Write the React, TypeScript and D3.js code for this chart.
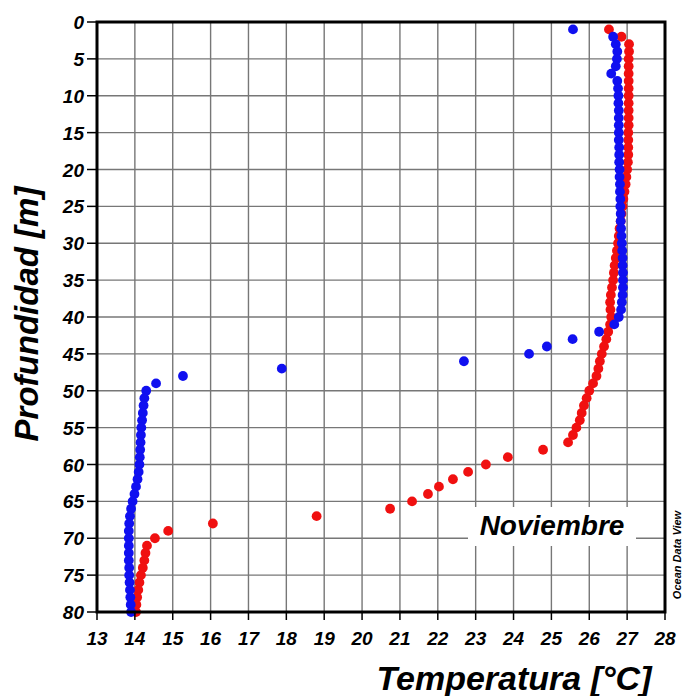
import * as d3 from 'd3';

const depths = [
  1, 2, 3, 4, 5, 6, 7, 8, 9, 10, 11, 12, 13, 14, 15, 16, 17, 18, 19, 20,
  21, 22, 23, 24, 25, 26, 27, 28, 29, 30, 31, 32, 33, 34, 35, 36, 37, 38, 39, 40,
  41, 42, 43, 44, 45, 46, 47, 48, 49, 50, 51, 52, 53, 54, 55, 56, 57, 58, 59, 60,
  61, 62, 63, 64, 65, 66, 67, 68, 69, 70, 71, 72, 73, 74, 75, 76, 77, 78, 79, 80,
];

// azul
const tempBlue = [
  25.57, 26.63, 26.7, 26.74, 26.73, 26.7, 26.58, 26.74, 26.76, 26.77,
  26.77, 26.78, 26.78, 26.78, 26.78, 26.78, 26.79, 26.79, 26.79, 26.8,
  26.8, 26.81, 26.81, 26.82, 26.82, 26.83, 26.83, 26.84, 26.85, 26.86,
  26.87, 26.88, 26.88, 26.89, 26.89, 26.89, 26.88, 26.86, 26.84, 26.78,
  26.66, 26.26, 25.56, 24.88, 24.41, 22.69, 17.88, 15.27, 14.56, 14.3,
  14.25, 14.23, 14.21, 14.19, 14.17, 14.16, 14.15, 14.14, 14.13, 14.12,
  14.1, 14.07, 14.03, 13.99, 13.94, 13.9, 13.87, 13.85, 13.84, 13.84,
  13.84, 13.84, 13.84, 13.85, 13.85, 13.86, 13.87, 13.88, 13.89, 13.9,
];

// rojo
const tempRed = [
  26.52, 26.85, 27.05, 27.05, 27.04, 27.04, 27.04, 27.04, 27.04, 27.04,
  27.04, 27.04, 27.04, 27.04, 27.03, 27.03, 27.03, 27.03, 27.02, 27.0,
  26.98, 26.96, 26.93, 26.9, 26.88, 26.85, 26.83, 26.8, 26.78, 26.76,
  26.73, 26.7, 26.67, 26.65, 26.63, 26.6, 26.57, 26.55, 26.56, 26.58,
  26.55, 26.5, 26.45, 26.39, 26.33, 26.28, 26.24, 26.19, 26.1, 26.0,
  25.93, 25.86, 25.8, 25.75, 25.66, 25.57, 25.44, 24.78, 23.85, 23.27,
  22.8, 22.4, 22.03, 21.74, 21.32, 20.74, 18.8, 16.06, 14.88, 14.53,
  14.32, 14.28, 14.25, 14.21, 14.16, 14.12, 14.09, 14.06, 14.04, 14.03,
];

const xTicks = [13, 14, 15, 16, 17, 18, 19, 20, 21, 22, 23, 24, 25, 26, 27, 28];
const yTicks = [0, 5, 10, 15, 20, 25, 30, 35, 40, 45, 50, 55, 60, 65, 70, 75, 80];

const W = 683;
const H = 696;
const left = 97;
const right = 665;
const top = 22;
const bottom = 612;
const font = "'Liberation Sans', Arial, sans-serif";

export default function App() {
  const x = d3.scaleLinear().domain([13, 28]).range([left, right]);
  const y = d3.scaleLinear().domain([0, 80]).range([top, bottom]);

  return (
    <svg width={W} height={H} style={{ position: 'absolute', left: 0, top: 0, background: '#fff' }}>
      {xTicks.map((t) => (
        <line key={'gx' + t} x1={x(t)} x2={x(t)} y1={top} y2={bottom} stroke='#777' strokeWidth={1.4} />
      ))}
      {yTicks.map((t) => (
        <line key={'gy' + t} x1={left} x2={right} y1={y(t)} y2={y(t)} stroke='#777' strokeWidth={1.4} />
      ))}

      {/* etiqueta del mes */}
      <rect x={468} y={507} width={168} height={39} fill='#fff' />
      <text x={552} y={535} textAnchor='middle' fontFamily={font} fontWeight='bold' fontStyle='italic' fontSize={28}>
        Noviembre
      </text>

      {depths.map((d, i) => (
        <circle key={'r' + d} cx={x(tempRed[i])} cy={y(d)} r={4.9} fill='#f01010' />
      ))}
      {depths.map((d, i) => (
        <circle key={'b' + d} cx={x(tempBlue[i])} cy={y(d)} r={4.9} fill='#1010f0' />
      ))}

      <rect x={left} y={top} width={right - left} height={bottom - top} fill='none' stroke='#000' strokeWidth={3} />

      {xTicks.map((t) => (
        <g key={'tx' + t}>
          <line x1={x(t)} x2={x(t)} y1={bottom} y2={bottom + 8} stroke='#000' strokeWidth={1.5} />
          <text x={x(t)} y={645} textAnchor='middle' fontFamily={font} fontWeight='bold' fontStyle='italic' fontSize={19}>
            {t}
          </text>
        </g>
      ))}
      {yTicks.map((t) => (
        <g key={'ty' + t}>
          <line x1={left - 10} x2={left} y1={y(t)} y2={y(t)} stroke='#000' strokeWidth={1.5} />
          <text x={84} y={y(t) + 7} textAnchor='end' fontFamily={font} fontWeight='bold' fontStyle='italic' fontSize={19}>
            {t}
          </text>
        </g>
      ))}

      <text
        transform='translate(38,314) rotate(-90)'
        textAnchor='middle'
        fontFamily={font}
        fontWeight='bold'
        fontStyle='italic'
        fontSize={33}
      >
        Profundidad [m]
      </text>
      <text x={514} y={690} textAnchor='middle' fontFamily={font} fontWeight='bold' fontStyle='italic' fontSize={34}>
        Temperatura [°C]
      </text>
      <text
        transform='translate(681,555) rotate(-90)'
        textAnchor='middle'
        fontFamily={font}
        fontWeight='bold'
        fontStyle='italic'
        fontSize={11}
        fill='#000'
      >
        Ocean Data View
      </text>
    </svg>
  );
}
